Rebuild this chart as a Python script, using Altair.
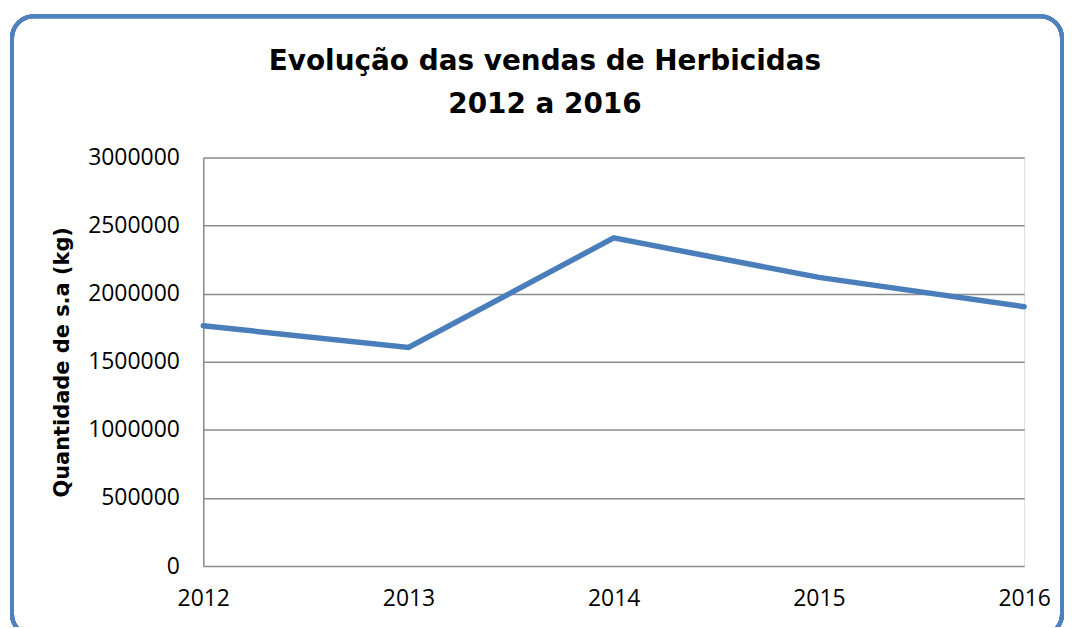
import altair as alt
import pandas as pd

years = ["2012", "2013", "2014", "2015", "2016"]
quantities = [1765000, 1605000, 2410000, 2120000, 1905000]
y_ticks = [0, 500000, 1000000, 1500000, 2000000, 2500000, 3000000]

df = pd.DataFrame({"ano": years, "quantidade": quantities})

W, H = 824, 410
PAD_L, PAD_T, PAD_R, PAD_B = 196, 149, 40, 60

x_enc = alt.X("ano:O", sort=years,
              scale=alt.Scale(type="point", padding=0),
              axis=alt.Axis(title=None, labelAngle=0, labelFont="Open Sans",
                            labelFontSize=23, labelColor="#000000", labelPadding=22,
                            ticks=False, domain=False, grid=False))
y_enc = alt.Y("quantidade:Q",
              scale=alt.Scale(domain=[0, 3000000], nice=False),
              axis=alt.Axis(values=y_ticks, format="d", title="Quantidade de s.a (kg)",
                            labelFont="Open Sans", labelFontSize=23, labelColor="#000000",
                            labelPadding=24, ticks=False, domain=True, domainColor="#8c8c8c",
                            domainWidth=1.5, grid=True, gridColor="#8c8c8c", gridWidth=1.5,
                            titleFont="DejaVu Sans", titleFontSize=21, titleFontWeight="bold",
                            titleColor="#000000", titleAngle=-90, titleBaseline="middle",
                            titleAlign="center", titleX=-141, titleY=H / 2))

border = alt.Chart(df).mark_rect(
    fill=None, stroke="#4F81BD", strokeWidth=4, cornerRadius=22
).encode(
    x=alt.value(-192), x2=alt.value(862), y=alt.value(-142), y2=alt.value(480)
)

line = alt.Chart(df).mark_line(color="#4A7EBB", strokeWidth=5.5, strokeCap="round",
                               strokeJoin="miter").encode(x=x_enc, y=y_enc)

chart = alt.layer(border, line).properties(
    width=W, height=H,
    title=alt.TitleParams(
        text=["Evolução das vendas  de Herbicidas", "2012 a 2016"],
        font="DejaVu Sans", fontSize=28, fontWeight="bold", color="#000000",
        anchor="middle", dx=-69, lineHeight=43, offset=-105
    ),
    autosize=alt.AutoSizeParams(type="none"),
    padding={"left": PAD_L, "top": PAD_T, "right": PAD_R, "bottom": PAD_B}
).configure_view(
    strokeWidth=0, stroke="transparent"
).configure_axisX(
    grid=False, domain=False
).configure(background="#ffffff")

chart.save("out.html", embed_options={"renderer": "svg", "actions": False})
